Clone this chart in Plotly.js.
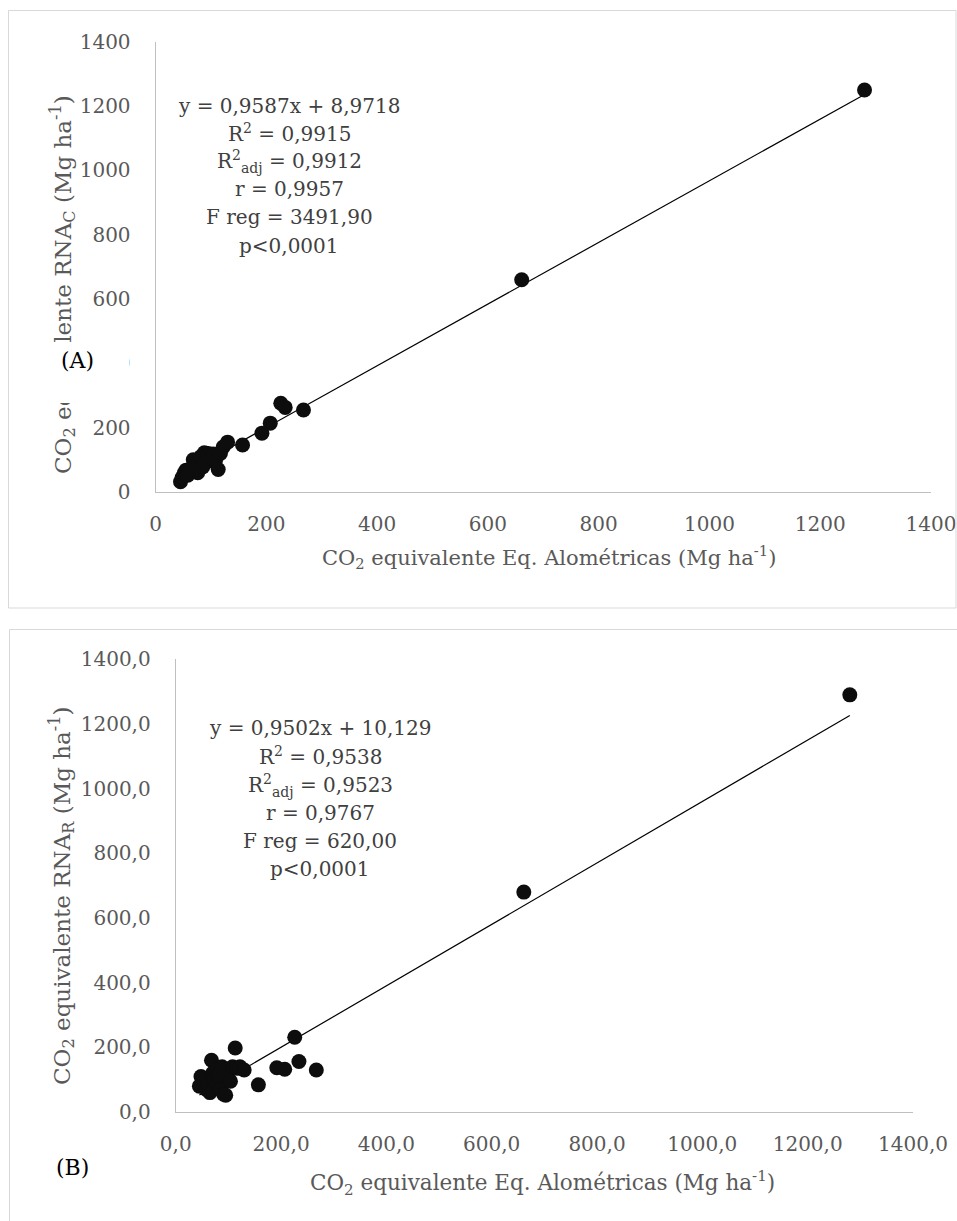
<!DOCTYPE html>
<html><head><meta charset="utf-8">
<script src="https://cdn.plot.ly/plotly-3.0.1.min.js"></script>
<style>html,body{margin:0;padding:0;background:#fff;} #chart{width:957px;height:1221px;}</style>
</head><body><div id="chart"></div>
<script>
// ---- data ----
const xAlometricas = [45,48,52,55,58,62,65,68,70,73,76,79,82,85,88,91,95,99,104,108,113,117,122,130,157,192,207,226,234,267,661,1280];
const yRNAc = [32,45,60,68,52,70,62,100,75,85,60,95,110,78,122,92,120,105,118,96,70,120,140,155,146,183,214,276,263,255,660,1250];
const yRNAr = [80,110,104,95,70,85,60,160,120,100,130,88,115,70,140,55,52,120,95,140,198,135,140,130,84,137,132,231,156,130,680,1290];
const slopeA = 0.9587, interceptA = 8.9718;
const slopeB = 0.9502, interceptB = 10.129;
const tickVals = [0,200,400,600,800,1000,1200,1400];
const tickTextA = ['0','200','400','600','800','1000','1200','1400'];
const tickTextB = ['0,0','200,0','400,0','600,0','800,0','1000,0','1200,0','1400,0'];
const statsA = ['y = 0,9587x + 8,9718','R<sup>2</sup> = 0,9915','R<sup>2</sup><sub>adj</sub> = 0,9912','r = 0,9957','F reg = 3491,90','p<0,0001'];
const statsB = ['y = 0,9502x + 10,129','R<sup>2</sup> = 0,9538','R<sup>2</sup><sub>adj</sub> = 0,9523','r = 0,9767','F reg = 620,00','p<0,0001'];
const xTitle = 'CO<sub>2</sub> equivalente Eq. Alométricas (Mg ha<sup>-1</sup>)';
const yTitleA = 'CO<sub>2</sub> equivalente RNA<sub>C</sub> (Mg ha<sup>-1</sup>)';
const yTitleB = 'CO<sub>2</sub> equivalente RNA<sub>R</sub> (Mg ha<sup>-1</sup>)';

// ---- layout helpers ----
const W = 957, H = 1221;
const px = v => v / W, py = v => 1 - v / H;
const FONT = 'DejaVu Serif';
const xmin = Math.min(...xAlometricas), xmax = Math.max(...xAlometricas);

const traces = [
  {x:[xmin,xmax], y:[slopeA*xmin+interceptA, slopeA*xmax+interceptA], xaxis:'x', yaxis:'y', mode:'lines', line:{color:'#000', width:1.2}, hoverinfo:'skip'},
  {x:xAlometricas, y:yRNAc, xaxis:'x', yaxis:'y', mode:'markers', marker:{size:15, color:'#0d0d0d'}},
  {x:[xmin,xmax], y:[slopeB*xmin+interceptB, slopeB*xmax+interceptB], xaxis:'x2', yaxis:'y2', mode:'lines', line:{color:'#000', width:1.2}, hoverinfo:'skip'},
  {x:xAlometricas, y:yRNAr, xaxis:'x2', yaxis:'y2', mode:'markers', marker:{size:15, color:'#0d0d0d'}}
];

const axBase = {range:[0,1400], showline:true, linecolor:'#bfbfbf', linewidth:1, showgrid:false, zeroline:false, ticks:'', tickfont:{family:FONT, size:20, color:'#595959'}, fixedrange:true, tickvals:tickVals};

const ann = [];
function txt(text, x, y, opts) {
  ann.push(Object.assign({text, x:px(x), y:py(y), xref:'paper', yref:'paper', showarrow:false, xanchor:'center', yanchor:'middle', font:{family:FONT, size:20, color:'#595959'}}, opts||{}));
}
const titleFont = {family:FONT, size:23, color:'#595959'};
const xTitleFont = {family:FONT, size:21, color:'#595959'};
// Panel A
txt(yTitleA, 62, 285, {textangle:-90, font:titleFont});
ann.push({text:'&nbsp;', x:px(30), y:py(342), xref:'paper', yref:'paper', xanchor:'left', yanchor:'top', showarrow:false, width:99, height:61, bgcolor:'#ffffff', borderwidth:0, borderpad:0});
txt('(A)', 77, 360, {font:{family:FONT, size:22, color:'#000'}});
const rowsA = [106,133,161,189.3,217.3,246];
statsA.forEach((s,i)=>txt(s, 289, rowsA[i], {font:{family:FONT, size:20, color:'#404040'}}));
txt(xTitle, 549, 557, {font:xTitleFont});
// Panel B
txt(yTitleB, 61, 896, {textangle:-90, font:titleFont});
txt('(B)', 72, 1167, {font:{family:FONT, size:22, color:'#000'}});
const rowsB = [728.3,756,785,812.7,840.7,869.3];
statsB.forEach((s,i)=>txt(s, 320, rowsB[i], {font:{family:FONT, size:20, color:'#404040'}}));
txt(xTitle, 542, 1183, {font:{family:FONT, size:21.5, color:'#595959'}});

const frame = {type:'line', xref:'paper', yref:'paper', line:{color:'#d9d9d9', width:1}};
const shapes = [
  Object.assign({x0:px(8.5), x1:px(956), y0:py(10.5), y1:py(10.5)}, frame),
  Object.assign({x0:px(8.5), x1:px(8.5), y0:py(10.5), y1:py(608)}, frame),
  Object.assign({x0:px(8.5), x1:px(956), y0:py(608), y1:py(608)}, frame),
  Object.assign({x0:px(956), x1:px(956), y0:py(10.5), y1:py(608)}, frame),
  Object.assign({x0:px(9.5), x1:px(957), y0:py(629.5), y1:py(629.5)}, frame),
  Object.assign({x0:px(9.5), x1:px(9.5), y0:py(629.5), y1:py(1221)}, frame)
];

const layout = {
  width:W, height:H, margin:{l:0,r:0,t:0,b:0}, showlegend:false,
  paper_bgcolor:'#fff', plot_bgcolor:'rgba(0,0,0,0)',
  xaxis: Object.assign({}, axBase, {domain:[px(155.6), px(931)], anchor:'y', ticktext:tickTextA, ticklabelstandoff:14}),
  yaxis: Object.assign({}, axBase, {domain:[py(492), py(41.7)], anchor:'x', ticktext:tickTextA, ticklabelstandoff:20}),
  xaxis2: Object.assign({}, axBase, {domain:[px(175.7), px(913)], anchor:'y2', ticktext:tickTextB, ticklabelstandoff:14}),
  yaxis2: Object.assign({}, axBase, {domain:[py(1112), py(659.3)], anchor:'x2', ticktext:tickTextB, ticklabelstandoff:20}),
  annotations: ann, shapes: shapes
};
Plotly.newPlot('chart', traces, layout, {staticPlot:true, displayModeBar:false});
</script></body></html>
